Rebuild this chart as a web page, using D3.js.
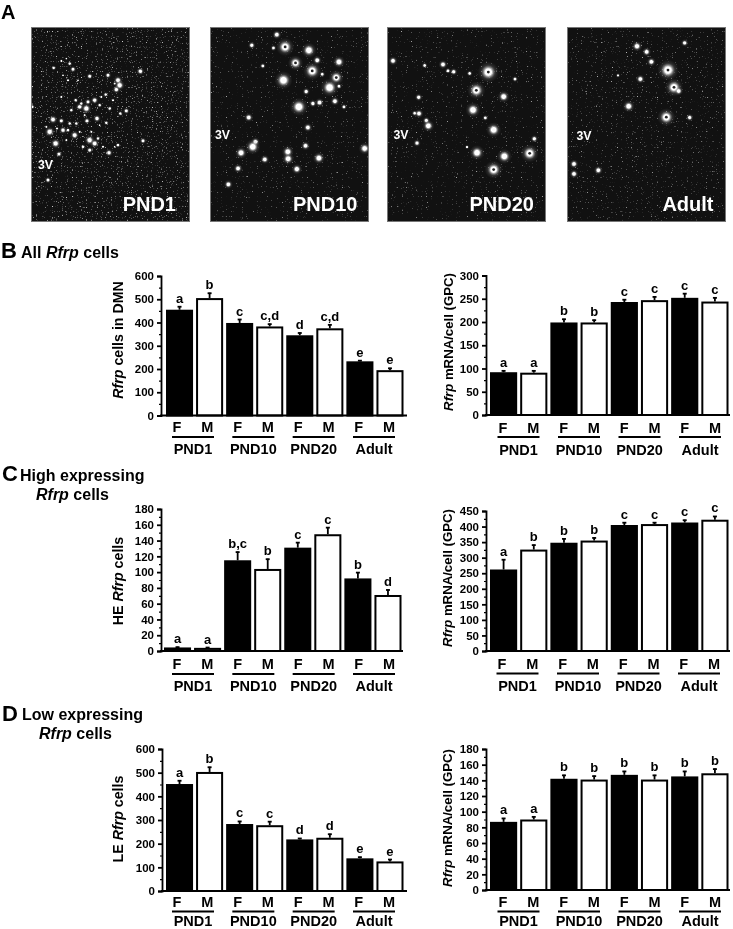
<!DOCTYPE html>
<html><head><meta charset="utf-8">
<style>
html,body{margin:0;padding:0;background:#fff}
svg{display:block}
text{font-family:"Liberation Sans",Arial,sans-serif}
</style>
<script src="https://cdn.jsdelivr.net/npm/d3@7"></script>
</head><body><div id="chart"></div>
<script>
const categories = ["F","M","F","M","F","M","F","M"];
const groups = ["PND1","PND10","PND20","Adult"];

const allCellsTicks = [0,100,200,300,400,500,600];
const allCellsValues = [455,505,398,383,345,375,233,195];
const allCellsErrTop = [470,528,415,395,357,392,238,205];
const allCellsLetters = ["a","b","c","c,d","d","c,d","e","e"];

const allMrnaTicks = [0,50,100,150,200,250,300];
const allMrnaValues = [92,91,199,199,243,247,252,244];
const allMrnaErrTop = [96,96,207,205,249,255,262,253];
const allMrnaLetters = ["a","a","b","b","c","c","c","c"];

const highCellsTicks = [0,20,40,60,80,100,120,140,160,180];
const highCellsValues = [4.5,4,115,104,131,148,92,71];
const highCellsErrTop = [5.5,5,126,117,138,157,100,78];
const highCellsLetters = ["a","a","b,c","b","c","c","b","d"];

const highMrnaTicks = [0,50,100,150,200,250,300,350,400,450];
const highMrnaValues = [262,326,348,355,405,408,413,422];
const highMrnaErrTop = [295,342,362,365,414,414,422,434];
const highMrnaLetters = ["a","b","b","b","c","c","c","c"];

const lowCellsTicks = [0,100,200,300,400,500,600];
const lowCellsValues = [452,503,283,278,218,225,138,125];
const lowCellsErrTop = [468,525,296,295,224,242,145,135];
const lowCellsLetters = ["a","b","c","c","d","d","e","e"];

const lowMrnaTicks = [0,20,40,60,80,100,120,140,160,180];
const lowMrnaValues = [87,90,142,141,147,141,145,149];
const lowMrnaErrTop = [92,94,147,146,152,147,152,155];
const lowMrnaLetters = ["a","a","b","b","b","b","b","b"];

// micrograph bright spots: [x, y, size, ring]
const spotsPnd1 = [[162,203,2],[185,182,1.5],[210,190,2],[220,207,2.5],[205,240,1.5],[270,228,2.5],[325,225,2.5],[422,213,3],[355,240,3.5],[360,255,4],[350,268,3],[318,283,2],[285,300,3],[265,305,2.5],[240,320,3],[260,325,4],[228,300,2],[215,330,2],[300,315,2],[330,325,2],[380,332,2.5],[362,340,2],[185,290,1.5],[160,358,3.5],[185,362,2.5],[150,395,4],[190,390,3],[210,370,2],[230,370,2],[225,405,3.5],[168,430,4],[262,362,2.5],[292,355,3],[320,368,2],[270,420,4],[285,430,3.5],[270,450,2.5],[328,458,3],[355,435,2],[430,422,2.5],[178,462,2.5],[145,540,2.5],[98,320,2],[245,310,2],[205,390,2],[250,440,2],[295,415,2],[140,380,1.5],[305,290,1.5],[340,300,1.5],[172,385,1.5],[240,395,1.5],[275,395,1.5],[200,420,1.5],[310,440,1.5],[345,250,1.5],[200,175,1.2],[235,240,1.2],[190,225,1.2],[300,375,1.2],[255,345,1.5],[345,440,1.2]];
const spotsPnd10 = [[832,103,3],[757,135,2.5],[822,143,2],[857,140,6,1],[928,150,5],[888,188,5,1],[953,180,3],[1018,185,4],[790,197,2],[938,212,6,1],[968,222,2],[1010,232,5,1],[852,240,6],[990,262,6],[1018,258,2],[920,274,2.5],[1006,303,3],[898,320,6],[940,310,2.5],[960,307,3],[1033,320,2],[748,352,3],[925,382,3],[918,437,3],[768,425,3],[760,440,5],[725,458,4],[865,455,4],[866,476,4],[796,478,3],[958,474,4],[892,507,3.5],[716,505,3],[687,553,3],[1095,445,4]];
const spotsPnd20 = [[70,182,3],[165,196,2],[220,193,3],[235,212,2],[252,215,2.5],[300,220,2],[356,216,7,1],[436,237,2],[320,271,6,1],[402,290,4],[147,292,2.5],[135,340,2],[148,341,3],[310,330,5],[347,354,2],[170,362,2.5],[176,378,4],[372,390,5],[142,430,2.5],[292,442,1.5],[322,459,5],[404,470,5],[480,461,6,1],[494,417,2.5],[372,510,6,1]];
const spotsAdult = [[802,138,3.5],[831,155,3],[945,128,2.5],[845,185,3],[895,210,7,1],[812,237,3],[745,226,1.5],[913,262,6,1],[927,273,3],[777,319,4],[890,352,6,1],[960,353,2.5],[613,493,3],[613,523,3],[686,512,3]];

const svg = d3.select("#chart").append("svg").attr("width",733).attr("height",929).attr("viewBox","0 0 733 929");
const defs = svg.append("defs");

const glow = defs.append("radialGradient").attr("id","glow");
[[0,"#fff",1],[0.3,"#fff",1],[0.45,"#ddd",0.6],[0.65,"#999",0.22],[1,"#666",0]].forEach(s=>
  glow.append("stop").attr("offset",s[0]).attr("stop-color",s[1]).attr("stop-opacity",s[2]));
defs.append("filter").attr("id","soft").append("feGaussianBlur").attr("stdDeviation",0.6);

function speckleFilter(id, seed, slope, intercept){
  const f = defs.append("filter").attr("id",id).attr("x",0).attr("y",0).attr("width","100%").attr("height","100%")
    .attr("color-interpolation-filters","sRGB");
  f.append("feTurbulence").attr("type","fractalNoise").attr("baseFrequency",0.8).attr("numOctaves",1).attr("seed",seed);
  f.append("feColorMatrix").attr("type","matrix").attr("values",
    `${slope} 0 0 0 ${intercept}  ${slope} 0 0 0 ${intercept}  ${slope} 0 0 0 ${intercept}  0 0 0 0 1`);
}
speckleFilter("sp1",3,4,-2.5);
speckleFilter("sp2",8,4,-2.68);
speckleFilter("sp3",14,4,-2.68);
speckleFilter("sp4",21,4,-2.62);

function micrograph(o){
  const x = d3.scaleLinear().domain(o.zx).range(o.px);
  const y = d3.scaleLinear().domain(o.zy).range([27,222]);
  const k = (o.px[1]-o.px[0])/(o.zx[1]-o.zx[0]);
  const g = svg.append("g");
  const cid = "clip"+o.filter;
  defs.append("clipPath").attr("id",cid).append("rect").attr("x",o.px[0]).attr("y",27).attr("width",o.px[1]-o.px[0]).attr("height",195);
  g.append("rect").attr("x",o.px[0]).attr("y",27).attr("width",o.px[1]-o.px[0]).attr("height",195).attr("fill","#111");
  g.append("rect").attr("x",o.px[0]).attr("y",27).attr("width",o.px[1]-o.px[0]).attr("height",195)
    .attr("filter",`url(#${o.filter})`).style("mix-blend-mode","screen");
  const s = g.append("g").attr("clip-path",`url(#${cid})`).append("g").attr("filter","url(#soft)");
  s.selectAll("circle.spot").data(o.spots).join("circle").attr("class","spot")
    .attr("cx",d=>x(d[0])).attr("cy",d=>y(d[1])).attr("r",d=>d[2]*o.spread*k)
    .attr("fill","url(#glow)");
  s.selectAll("circle.ring").data(o.spots.filter(d=>d[3])).join("circle").attr("class","ring")
    .attr("cx",d=>x(d[0])).attr("cy",d=>y(d[1])).attr("r",1.4).attr("fill","#222");
  g.append("rect").attr("x",o.px[0]+.5).attr("y",27.5).attr("width",o.px[1]-o.px[0]-1).attr("height",194)
    .attr("fill","none").attr("stroke","#777").attr("stroke-width",1);
  g.append("text").attr("x",o.labelX).attr("y",211).attr("text-anchor","end").attr("fill","#fff")
    .attr("font-weight","bold").attr("font-size",20).text(o.label);
  g.append("text").attr("x",o.vx).attr("y",o.vy).attr("fill","#fff").attr("font-weight","bold").attr("font-size",12.3).text("3V");
}
micrograph({zx:[94,571],zy:[80,666],px:[31,190],spots:spotsPnd1,spread:4,filter:"sp1",label:"PND1",labelX:176,vx:38,vy:169});
micrograph({zx:[632,1108],zy:[80,666],px:[210,369],spots:spotsPnd10,spread:4.6,filter:"sp2",label:"PND10",labelX:357.5,vx:215,vy:139});
micrograph({zx:[52,529],zy:[80,668],px:[387,546],spots:spotsPnd20,spread:4.6,filter:"sp3",label:"PND20",labelX:534,vx:393.5,vy:139});
micrograph({zx:[592,1069],zy:[80,668],px:[567,726],spots:spotsAdult,spread:4.6,filter:"sp4",label:"Adult",labelX:713.5,vx:576.5,vy:140});

function heading(letter,lx,ly,parts,size){
  svg.append("text").attr("x",lx).attr("y",ly).attr("font-weight","bold").attr("font-size",size||22).text(letter);
  parts.forEach(p=>{
    const t = svg.append("text").attr("x",p.x).attr("y",p.y).attr("font-weight","bold").attr("font-size",16);
    p.runs.forEach(r=>t.append("tspan").attr("font-style",r[1]?"italic":"normal").text(r[0]));
  });
}
heading("A",1,18.5,[],20);
heading("B",1,258,[{x:21,y:257.5,runs:[["All ",0],["Rfrp",1],[" cells",0]]}]);
heading("C",2,481,[{x:20,y:481,runs:[["High expressing",0]]},{x:36,y:500,runs:[["Rfrp",1],[" cells",0]]}]);
heading("D",2,721,[{x:22,y:720,runs:[["Low expressing",0]]},{x:39,y:739,runs:[["Rfrp",1],[" cells",0]]}]);

function barChart(o){
  const g = svg.append("g");
  const x = d3.scaleBand().domain(d3.range(categories.length)).range(o.xr).paddingInner(0.1).paddingOuter(0);
  const y = d3.scaleLinear().domain([0,d3.max(o.ticks)]).range([o.y0,o.yTop]);
  const step = o.ticks[1]-o.ticks[0];
  const minor = o.ticks.slice(0,-1).map(t=>t+step/2);

  const idx = d3.range(o.values.length);
  const eb = g.append("g").attr("stroke","#000");
  eb.selectAll("line.stem").data(idx).join("line").attr("class","stem")
    .attr("x1",i=>x(i)+x.bandwidth()/2).attr("x2",i=>x(i)+x.bandwidth()/2)
    .attr("y1",i=>y(o.values[i])).attr("y2",i=>y(o.errTop[i])).attr("stroke-width",1.8);
  eb.selectAll("line.cap").data(idx).join("line").attr("class","cap")
    .attr("x1",i=>x(i)+x.bandwidth()/2-2).attr("x2",i=>x(i)+x.bandwidth()/2+2)
    .attr("y1",i=>y(o.errTop[i])+.5).attr("y2",i=>y(o.errTop[i])+.5).attr("stroke-width",1.8);

  g.selectAll("rect.bar").data(idx).join("rect").attr("class","bar")
    .attr("x",i=>x(i)+1).attr("width",x.bandwidth()-2)
    .attr("y",i=>y(o.values[i])+1).attr("height",i=>Math.max(0,o.y0-y(o.values[i])-1))
    .attr("fill",i=>{
      if(i%2===0) return "#000";
      return o.greyFirstMale && i===1 ? "#666" : "#fff";
    })
    .attr("stroke","#000").attr("stroke-width",2);

  const ax = g.append("g").attr("transform",`translate(${o.xAxis},0)`)
    .call(d3.axisLeft(y).tickValues(o.ticks).tickFormat(d3.format("d")).tickSize(4).tickPadding(3));
  ax.selectAll("path,line").attr("stroke","#000").attr("stroke-width",1.8);
  ax.selectAll("text").attr("font-family","'Liberation Sans',Arial,sans-serif").attr("font-weight","bold").attr("font-size",11.5).attr("fill","#000");
  const axm = g.append("g").attr("transform",`translate(${o.xAxis},0)`)
    .call(d3.axisLeft(y).tickValues(minor).tickFormat("").tickSize(2));
  axm.select("path").remove();
  axm.selectAll("line").attr("stroke","#000").attr("stroke-width",1.2);

  g.append("line").attr("x1",o.xAxis-1).attr("x2",o.xEnd).attr("y1",o.y0).attr("y2",o.y0).attr("stroke","#000").attr("stroke-width",2);

  g.selectAll("text.sig").data(idx).join("text").attr("class","sig")
    .attr("x",i=>x(i)+x.bandwidth()/2).attr("y",i=>y(o.errTop[i])-3.5)
    .attr("text-anchor","middle").attr("font-weight","bold").attr("font-size",13).text(i=>o.letters[i]);

  const lab = d3.scalePoint().domain(idx).range(o.labX);
  g.selectAll("text.cat").data(idx).join("text").attr("class","cat")
    .attr("x",i=>lab(i)).attr("y",o.catY).attr("text-anchor","middle")
    .attr("font-weight","bold").attr("font-size",14.5).text(i=>categories[i]);

  const grp = d3.scalePoint().domain(groups).range(o.grpX);
  g.selectAll("line.grp").data(groups).join("line").attr("class","grp")
    .attr("x1",d=>grp(d)-21).attr("x2",d=>grp(d)+21).attr("y1",o.lineY).attr("y2",o.lineY)
    .attr("stroke","#000").attr("stroke-width",2);
  g.selectAll("text.grpl").data(groups).join("text").attr("class","grpl")
    .attr("x",d=>grp(d)).attr("y",o.grpY).attr("text-anchor","middle")
    .attr("font-weight","bold").attr("font-size",14.5).text(d=>d);

  const t = g.append("text").attr("transform",`translate(${o.titleX},${o.titleY}) rotate(-90)`)
    .attr("text-anchor","middle").attr("font-weight","bold").attr("font-size",o.titleSize);
  o.title.forEach(r=>t.append("tspan").attr("font-style",r[1]?"italic":"normal").text(r[0]));
}

const left = {xAxis:161,xEnd:407,xr:[166,403.5],labX:[177,389],grpX:[193,374],titleX:123,titleSize:14.2};
const right = {xAxis:486,xEnd:730,xr:[490,728.5],labX:[503,715],grpX:[518.5,700],titleX:453,titleSize:13.2};

barChart({...left,y0:415.5,yTop:276,ticks:allCellsTicks,values:allCellsValues,errTop:allCellsErrTop,letters:allCellsLetters,
  catY:432,lineY:437,grpY:454,titleY:340,title:[["Rfrp",1],[" cells in DMN",0]]});
barChart({...right,y0:415,yTop:275.5,ticks:allMrnaTicks,values:allMrnaValues,errTop:allMrnaErrTop,letters:allMrnaLetters,
  catY:432.5,lineY:437,grpY:455,titleY:342,title:[["Rfrp",1],[" mRNA/cell (GPC)",0]]});
barChart({...left,xr:[164,401.5],xEnd:403,y0:651,yTop:509,ticks:highCellsTicks,values:highCellsValues,errTop:highCellsErrTop,letters:highCellsLetters,greyFirstMale:true,
  catY:669,lineY:674,grpY:691,titleY:581,title:[["HE ",0],["Rfrp",1],[" cells",0]]});
barChart({...right,y0:651,yTop:511,ticks:highMrnaTicks,values:highMrnaValues,errTop:highMrnaErrTop,letters:highMrnaLetters,
  labX:[502,714],grpX:[517.5,699],catY:669,lineY:673.5,grpY:691,titleX:452,titleY:578,title:[["Rfrp",1],[" mRNA/cell (GPC)",0]]});
barChart({...left,y0:891,yTop:749,ticks:lowCellsTicks,values:lowCellsValues,errTop:lowCellsErrTop,letters:lowCellsLetters,
  xAxis:162,catY:906.5,lineY:911.5,grpY:925.5,titleY:819,title:[["LE ",0],["Rfrp",1],[" cells",0]]});
barChart({...right,y0:890,yTop:749,ticks:lowMrnaTicks,values:lowMrnaValues,errTop:lowMrnaErrTop,letters:lowMrnaLetters,
  catY:906.5,lineY:911.5,grpY:925.5,titleX:452,titleY:818,title:[["Rfrp",1],[" mRNA/cell (GPC)",0]]});
</script></body></html>
